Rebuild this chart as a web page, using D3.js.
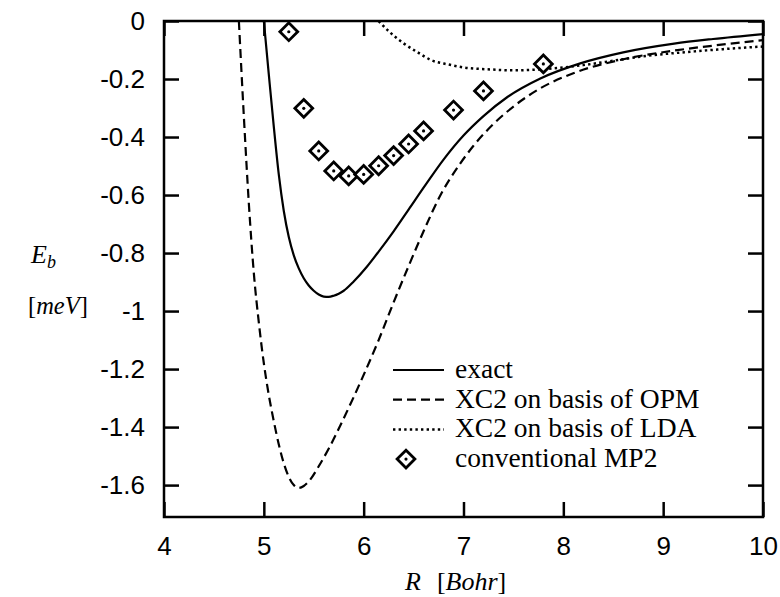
<!DOCTYPE html>
<html>
<head>
<meta charset="utf-8">
<script src="https://cdn.jsdelivr.net/npm/d3@7"></script>
<style>
  body { margin: 0; background: #fff; }
  svg { display: block; }
</style>
</head>
<body>
<svg id="chart" width="780" height="597"></svg>
<script>
// values (R in Bohr, E in meV)
var exact_R = [5.0, 5.05, 5.10, 5.15, 5.20, 5.25, 5.30, 5.35, 5.40, 5.45, 5.50, 5.55, 5.60, 5.65, 5.70, 5.75, 5.80, 5.90, 6.03, 6.15, 6.30, 6.45, 6.63, 6.80, 7.0, 7.2, 7.44, 7.77, 8.17, 8.6, 9.11, 9.5, 10.0];
var exact_E = [0.0, -0.185, -0.365, -0.53, -0.655, -0.745, -0.808, -0.853, -0.887, -0.912, -0.93, -0.943, -0.95, -0.951, -0.947, -0.94, -0.93, -0.898, -0.848, -0.795, -0.725, -0.65, -0.56, -0.478, -0.395, -0.328, -0.262, -0.198, -0.146, -0.108, -0.078, -0.062, -0.045];

var opm_R = [4.75, 4.80, 4.85, 4.90, 4.95, 5.00, 5.05, 5.10, 5.15, 5.20, 5.25, 5.30, 5.35, 5.40, 5.46, 5.55, 5.66, 5.80, 6.0, 6.15, 6.3, 6.45, 6.6, 6.77, 6.95, 7.1, 7.3, 7.5, 7.77, 8.1, 8.6, 9.11, 9.5, 10.0];
var opm_E = [0.0, -0.33, -0.63, -0.87, -1.04, -1.18, -1.29, -1.38, -1.46, -1.525, -1.572, -1.6, -1.61, -1.603, -1.583, -1.535, -1.468, -1.37, -1.22, -1.1, -0.97, -0.845, -0.725, -0.6, -0.5, -0.43, -0.355, -0.295, -0.232, -0.18, -0.132, -0.102, -0.085, -0.066];

var lda_R = [6.15, 6.25, 6.4, 6.55, 6.67, 6.85, 7.0, 7.27, 7.5, 7.7, 8.0, 8.2, 8.5, 8.77, 9.27, 9.6, 10.0];
var lda_E = [0.0, -0.035, -0.077, -0.11, -0.134, -0.15, -0.16, -0.167, -0.17, -0.168, -0.16, -0.152, -0.137, -0.123, -0.106, -0.097, -0.088];

var mp2_R = [5.25, 5.4, 5.55, 5.7, 5.85, 6.0, 6.15, 6.3, 6.45, 6.6, 6.9, 7.2, 7.8];
var mp2_E = [-0.037, -0.301, -0.448, -0.517, -0.534, -0.529, -0.499, -0.464, -0.424, -0.379, -0.307, -0.241, -0.148];

var x_ticks = [4, 5, 6, 7, 8, 9, 10];
var y_ticks = [0, -0.2, -0.4, -0.6, -0.8, -1, -1.2, -1.4, -1.6];
var y_tick_labels = ["0", "-0.2", "-0.4", "-0.6", "-0.8", "-1", "-1.2", "-1.4", "-1.6"];

var legend_names = ["exact", "XC2 on basis of OPM", "XC2 on basis of LDA", "conventional MP2"];

var margin = {left: 164, top: 21, right: 17, bottom: 80};
var width = 780 - margin.left - margin.right;
var height = 597 - margin.top - margin.bottom;

var svg = d3.select("#chart");
var g = svg.append("g").attr("transform", "translate(" + margin.left + "," + margin.top + ")");

var x = d3.scaleLinear().domain([4, 10]).range([0, width]);
var y = d3.scaleLinear().domain([-1.71, 0]).range([height, 0]);

svg.append("defs").append("clipPath").attr("id", "plotclip")
    .append("rect").attr("width", width).attr("height", height);

var tick_len = 15;
var tick_font = "'Liberation Sans', Arial, sans-serif";
var serif = "'Liberation Serif', 'Times New Roman', serif";

function styleAxis(sel) {
    sel.select(".domain").remove();
    sel.selectAll(".tick line").attr("stroke", "#000").attr("stroke-width", 2.5);
    sel.selectAll(".tick text")
        .attr("fill", "#000")
        .style("font-family", tick_font)
        .style("font-size", "26px");
}

g.append("g")
    .attr("transform", "translate(0," + height + ")")
    .call(d3.axisBottom(x).tickValues(x_ticks).tickSize(-tick_len).tickPadding(20).tickFormat(function (d) { return d; }))
    .call(styleAxis);
g.append("g")
    .call(d3.axisTop(x).tickValues(x_ticks).tickSize(-tick_len).tickFormat(""))
    .call(styleAxis);
g.append("g")
    .call(d3.axisLeft(y).tickValues(y_ticks).tickSize(-tick_len).tickPadding(19)
        .tickFormat(function (d, i) { return y_tick_labels[i]; }))
    .call(styleAxis);
g.append("g")
    .attr("transform", "translate(" + width + ",0)")
    .call(d3.axisRight(y).tickValues(y_ticks).tickSize(-tick_len).tickFormat(""))
    .call(styleAxis);

g.append("rect")
    .attr("width", width).attr("height", height)
    .attr("fill", "none").attr("stroke", "#000").attr("stroke-width", 2.5);

var line = d3.line()
    .x(function (d) { return x(d[0]); })
    .y(function (d) { return y(d[1]); })
    .curve(d3.curveMonotoneX);

var curves = [
    {R: exact_R, E: exact_E, dash: null, w: 2.2},
    {R: opm_R, E: opm_E, dash: "9,5", w: 2.2},
    {R: lda_R, E: lda_E, dash: "2.4,3.2", w: 2.5}
];

var plot = g.append("g").attr("clip-path", "url(#plotclip)");
curves.forEach(function (c) {
    var pts = c.R.map(function (r, i) { return [r, c.E[i]]; });
    plot.append("path")
        .datum(pts)
        .attr("d", line)
        .attr("fill", "none")
        .attr("stroke", "#000")
        .attr("stroke-width", c.w)
        .attr("stroke-dasharray", c.dash);
});

function diamond(sel) {
    sel.append("rect")
        .attr("x", -6.3).attr("y", -6.3).attr("width", 12.6).attr("height", 12.6)
        .attr("transform", "rotate(45)")
        .attr("fill", "#fff").attr("stroke", "#000").attr("stroke-width", 2.8);
    sel.append("circle").attr("r", 1.6).attr("fill", "#000");
}

var mp2 = mp2_R.map(function (r, i) { return [r, mp2_E[i]]; });
plot.selectAll("g.mp2")
    .data(mp2)
    .enter()
    .append("g")
    .attr("class", "mp2")
    .attr("transform", function (d) { return "translate(" + x(d[0]) + "," + y(d[1]) + ")"; })
    .each(function () { diamond(d3.select(this)); });

// legend
var leg = svg.append("g").attr("transform", "translate(393,370)");
var row_h = 29.7;
legend_names.forEach(function (name, i) {
    var row = leg.append("g").attr("transform", "translate(0," + (i * row_h) + ")");
    if (i < 3) {
        row.append("line")
            .attr("x1", 0).attr("x2", 51).attr("y1", 0).attr("y2", 0)
            .attr("stroke", "#000").attr("stroke-width", curves[i].w)
            .attr("stroke-dasharray", curves[i].dash);
    } else {
        var m = row.append("g").attr("transform", "translate(13,0)");
        diamond(m);
    }
    row.append("text")
        .attr("x", 62).attr("y", 8)
        .style("font-family", serif)
        .style("font-size", "27.5px")
        .text(name);
});

// axis titles
var ylab = svg.append("text").attr("x", 31).attr("y", 263)
    .style("font-family", serif).style("font-size", "26px");
ylab.append("tspan").style("font-style", "italic").text("E");
ylab.append("tspan").style("font-style", "italic").style("font-size", "18px").attr("dy", 5).text("b");

var ylab2 = svg.append("text").attr("x", 28).attr("y", 314)
    .style("font-family", serif).style("font-size", "24.5px");
ylab2.append("tspan").text("[");
ylab2.append("tspan").style("font-style", "italic").text("meV");
ylab2.append("tspan").text("]");

var xlab = svg.append("text").attr("x", 405).attr("y", 590)
    .style("font-family", serif).style("font-size", "26px");
xlab.append("tspan").style("font-style", "italic").text("R");
xlab.append("tspan").attr("dx", 16).text("[");
xlab.append("tspan").style("font-style", "italic").text("Bohr");
xlab.append("tspan").text("]");
</script>
</body>
</html>
